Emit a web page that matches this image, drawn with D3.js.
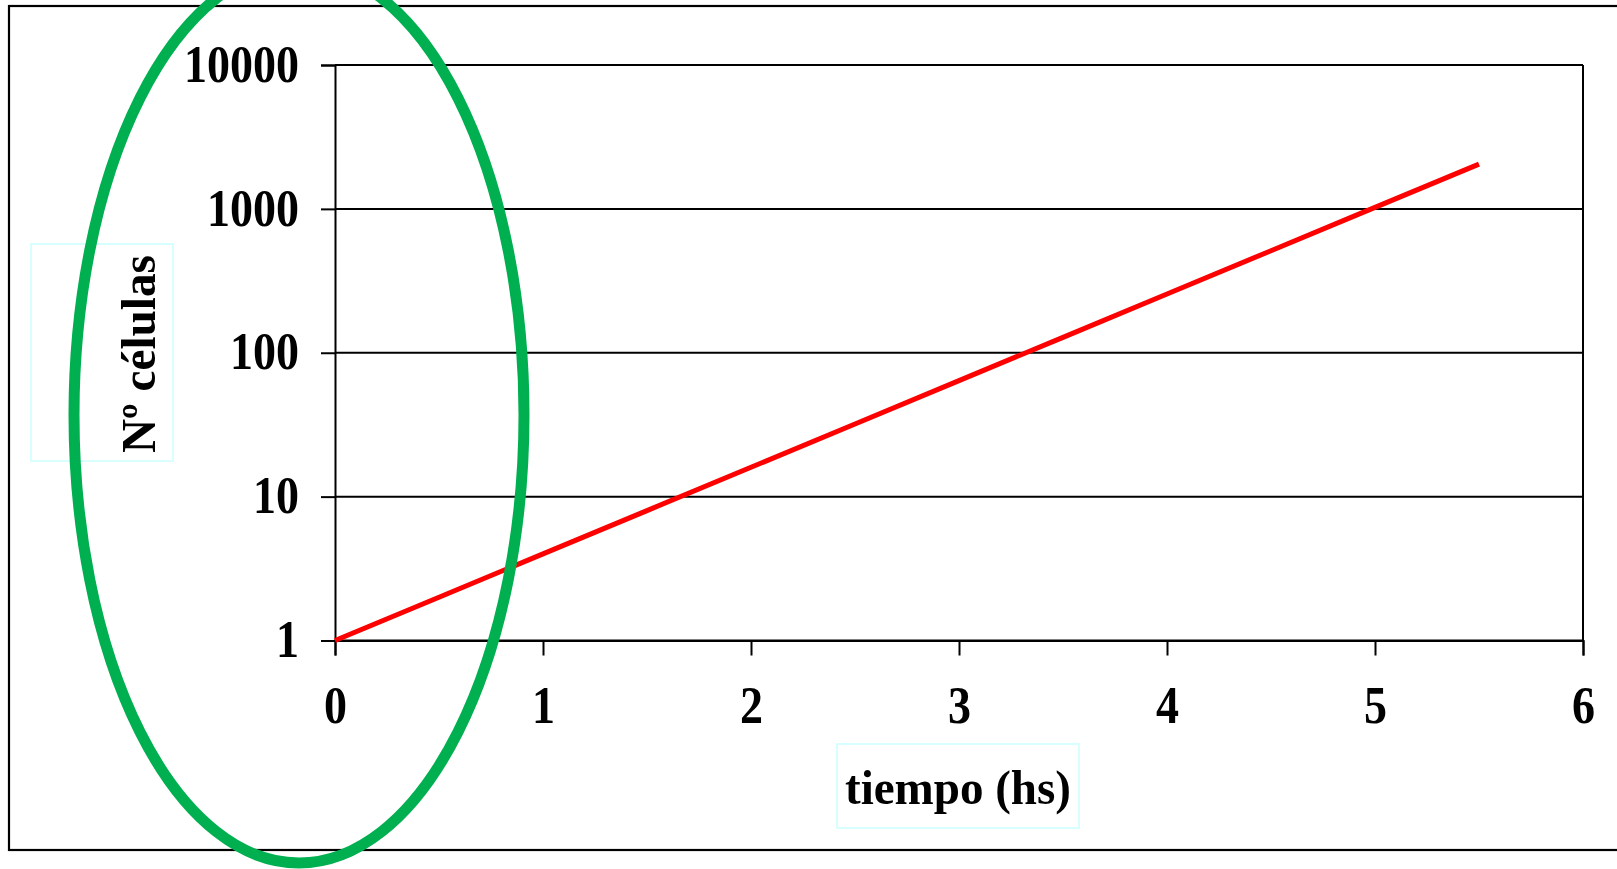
<!DOCTYPE html>
<html>
<head>
<meta charset="utf-8">
<script src="https://cdn.jsdelivr.net/npm/d3@7"></script>
<style>
  html, body { margin: 0; padding: 0; background: #ffffff; }
  svg { display: block; }
  text { font-family: "Liberation Serif", "Times New Roman", serif; font-weight: bold; fill: #000; }
</style>
</head>
<body>
<svg id="chart" width="1617" height="869"></svg>
<script>
// Cell count over time (log scale), sampled every half hour
const tiempo = [0, 0.5, 1, 1.5, 2, 2.5, 3, 3.5, 4, 4.5, 5, 5.5];
const celulas = [1, 2, 4, 8, 16, 32, 64, 128, 256, 512, 1024, 2048];

const xTicks = [0, 1, 2, 3, 4, 5, 6];
const yTicks = [1, 10, 100, 1000, 10000];

const xTitle = "tiempo (hs)";
const yTitle = "Nº células";

const svg = d3.select("#chart");

const plot = { left: 335, right: 1583, top: 65, bottom: 640.5 };

const x = d3.scaleLinear().domain([0, 6]).range([plot.left, plot.right]);
const y = d3.scaleLog().domain([1, 10000]).range([plot.bottom, plot.top]);

// Tick labels use a tall, slightly condensed bold serif face
const digitWidth = 23;
function styleTickText(sel, dy) {
  sel.attr("font-size", 52)
    .attr("font-family", "Liberation Serif, serif")
    .attr("font-weight", "bold")
    .attr("dy", dy)
    .attr("lengthAdjust", "spacingAndGlyphs")
    .attr("textLength", function () { return this.textContent.length * digitWidth; });
}

// Outer chart frame (right edge runs past the page)
svg.append("rect")
  .attr("x", 9).attr("y", 6)
  .attr("width", 1640).attr("height", 844)
  .attr("fill", "none").attr("stroke", "#000").attr("stroke-width", 2.2);

// Horizontal gridlines
svg.append("g")
  .selectAll("line")
  .data(yTicks)
  .join("line")
  .attr("x1", plot.left).attr("x2", plot.right)
  .attr("y1", d => y(d)).attr("y2", d => y(d))
  .attr("stroke", "#000").attr("stroke-width", 2);

// Right border of the plot area
svg.append("line")
  .attr("x1", plot.right).attr("x2", plot.right)
  .attr("y1", plot.top).attr("y2", plot.bottom)
  .attr("stroke", "#000").attr("stroke-width", 2);

// Y axis
const yAxis = d3.axisLeft(y)
  .tickValues(yTicks)
  .tickFormat(d3.format("d"))
  .tickSize(14)
  .tickPadding(22);

const gy = svg.append("g")
  .attr("transform", `translate(${plot.left},0)`)
  .call(yAxis);
gy.select(".domain").attr("stroke", "#000").attr("stroke-width", 2);
gy.selectAll(".tick line").attr("stroke", "#000").attr("stroke-width", 2);
gy.selectAll(".tick text").call(styleTickText, "0.31em");

// X axis
const xAxis = d3.axisBottom(x)
  .tickValues(xTicks)
  .tickFormat(d3.format("d"))
  .tickSize(15)
  .tickPadding(31);

const gx = svg.append("g")
  .attr("transform", `translate(0,${plot.bottom})`)
  .call(xAxis);
gx.select(".domain").attr("stroke", "#000").attr("stroke-width", 2);
gx.selectAll(".tick line").attr("stroke", "#000").attr("stroke-width", 2);
gx.selectAll(".tick text").call(styleTickText, "0.71em");

// Growth curve
const line = d3.line()
  .x((d, i) => x(tiempo[i]))
  .y(d => y(d));

svg.append("path")
  .datum(celulas)
  .attr("d", line)
  .attr("fill", "none")
  .attr("stroke", "#ff0000")
  .attr("stroke-width", 5)
  .attr("stroke-linejoin", "miter");

// X axis title with its box
svg.append("rect")
  .attr("x", 837).attr("y", 744)
  .attr("width", 242).attr("height", 84)
  .attr("fill", "none").attr("stroke", "#ccffff").attr("stroke-width", 1.5);
svg.append("text")
  .attr("x", 958).attr("y", 804)
  .attr("text-anchor", "middle")
  .attr("font-size", 49)
  .attr("lengthAdjust", "spacingAndGlyphs")
  .attr("textLength", 226)
  .text(xTitle);

// Y axis title with its box
svg.append("rect")
  .attr("x", 31).attr("y", 244)
  .attr("width", 142).attr("height", 217)
  .attr("fill", "none").attr("stroke", "#ccffff").attr("stroke-width", 1.5);
svg.append("text")
  .attr("transform", "translate(155,354) rotate(-90)")
  .attr("text-anchor", "middle")
  .attr("font-size", 49)
  .attr("lengthAdjust", "spacingAndGlyphs")
  .attr("textLength", 198)
  .text(yTitle);

// Green highlight ellipse around the y axis
svg.append("ellipse")
  .attr("cx", 299).attr("cy", 415)
  .attr("rx", 225).attr("ry", 448)
  .attr("fill", "none")
  .attr("stroke", "#00b050")
  .attr("stroke-width", 11);
</script>
</body>
</html>
